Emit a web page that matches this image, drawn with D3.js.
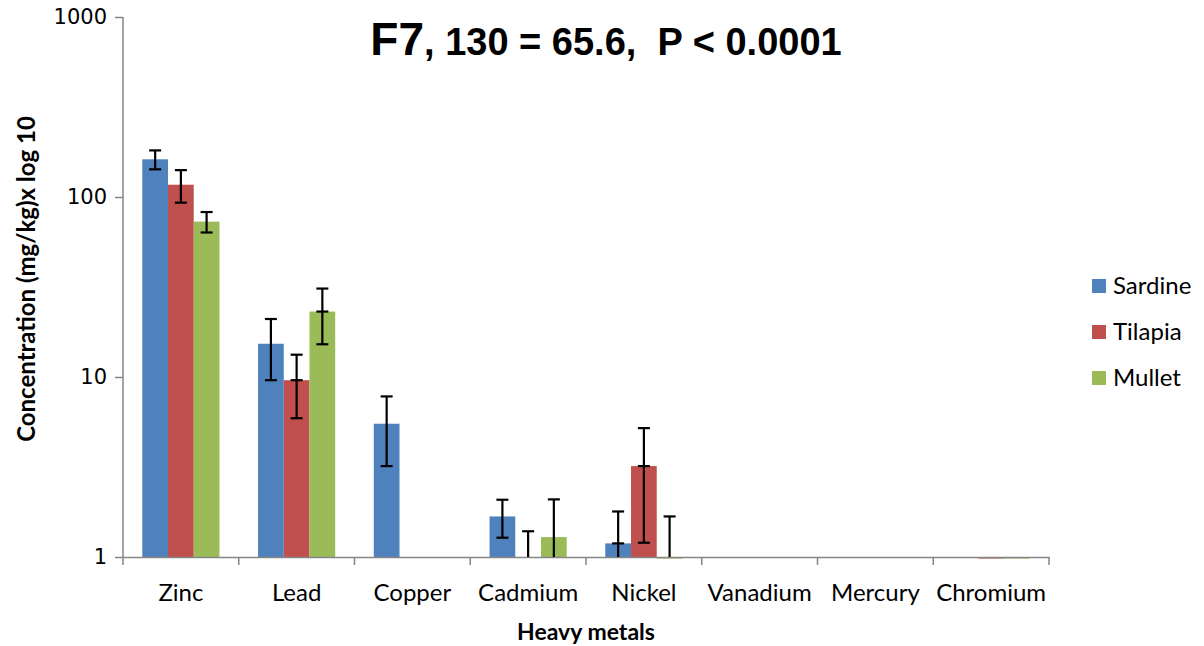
<!DOCTYPE html>
<html>
<head>
<meta charset="utf-8">
<script src="https://cdn.jsdelivr.net/npm/d3@7"></script>
<style>
  body { margin: 0; background: #fff; }
  .axis path, .axis line { stroke: #868686; }
</style>
</head>
<body>
<div id="chart"></div>
<script>
// chart values
const categories = ["Zinc", "Lead", "Copper", "Cadmium", "Nickel", "Vanadium", "Mercury", "Chromium"]
const seriesNames = ["Sardine", "Tilapia", "Mullet"]
const sardine = [162, 15.3, 5.5, 1.68, 1.19, 0, 0, 0]
const tilapia = [117, 9.6, 0, 0, 3.2, 0, 0, 0.98]
const mullet = [73, 23.1, 0, 1.29, 0.98, 0, 0, 0.98]
// +/- error (same units as the values)
const sardineErr = [19.5, 5.7, 2.3, 0.4, 0.6, 0, 0, 0]
const tilapiaErr = [24, 3.7, 0, 1.39, 2.0, 0, 0, 0]
const mulletErr = [9.5, 7.9, 0, 0.8, 0.7, 0, 0, 0]
// error bars that also show a cap at the bar top
const sardineMidCap = [false, false, false, false, true, false, false, false]
const tilapiaMidCap = [false, true, false, false, true, false, false, false]
const mulletMidCap = [false, true, false, false, false, false, false, false]
const yTicks = [1, 10, 100, 1000]
const colors = ["#4F81BD", "#C0504D", "#9BBB59"]

const values = [sardine, tilapia, mullet]
const errors = [sardineErr, tilapiaErr, mulletErr]
const midCaps = [sardineMidCap, tilapiaMidCap, mulletMidCap]

const width = 1204, height = 646
const margin = {top: 17, right: 155, bottom: 89, left: 123}
const w = width - margin.left - margin.right
const h = height - margin.top - margin.bottom
const font = "Lato, 'Open Sans', sans-serif"

const svg = d3.select("#chart")
    .append("svg")
    .attr("width", width)
    .attr("height", height)

const g = svg.append("g")
    .attr("transform", `translate(${margin.left}, ${margin.top})`)

g.append("clipPath")
    .attr("id", "clip")
    .append("rect")
    .attr("x", 0)
    .attr("y", -2)
    .attr("width", w)
    .attr("height", h + 4)

const xScale = d3.scaleBand()
    .domain(categories)
    .range([0, w])
    .padding(0)

const xInner = d3.scaleBand()
    .domain(seriesNames)
    .range([0, xScale.bandwidth()])
    .paddingInner(0)
    .paddingOuter(0.75)

const yScale = d3.scaleLog()
    .domain([1, 1000])
    .range([h, 0])

// flatten to one record per bar
const bars = []
categories.forEach((c, i) => {
    seriesNames.forEach((s, j) => {
        bars.push({cat: c, series: s, idx: j, value: values[j][i], err: errors[j][i], mid: midCaps[j][i]})
    })
})

const barG = g.append("g").attr("clip-path", "url(#clip)")

barG.selectAll(".bar")
    .data(bars.filter(d => d.value > 0))
    .enter()
    .append("rect")
    .attr("class", "bar")
    .attr("x", d => xScale(d.cat) + xInner(d.series))
    .attr("width", xInner.bandwidth())
    .attr("y", d => Math.min(yScale(d.value), yScale(1)))
    .attr("height", d => Math.max(Math.abs(yScale(1) - yScale(d.value)), 1.5))
    .attr("fill", d => colors[d.idx])

// axes
const xAxis = d3.axisBottom(xScale)
    .tickSize(0)
    .tickPadding(27)

const xAxisG = g.append("g")
    .attr("class", "axis x-axis")
    .attr("transform", `translate(0, ${h})`)
    .call(xAxis)
xAxisG.select(".domain").attr("stroke-width", 1.5)
xAxisG.selectAll("text")
    .attr("font-family", font)
    .attr("font-size", 24)
    .attr("fill", "#000")

// tick marks on the category boundaries
xAxisG.selectAll(".boundary")
    .data(d3.range(categories.length + 1))
    .enter()
    .append("line")
    .attr("class", "boundary")
    .attr("x1", d => d * xScale.step())
    .attr("x2", d => d * xScale.step())
    .attr("y1", 0)
    .attr("y2", 8)
    .attr("stroke-width", 1.5)

const yAxis = d3.axisLeft(yScale)
    .tickValues(yTicks)
    .tickFormat(d3.format("d"))
    .tickSize(8)
    .tickPadding(8)

const yAxisG = g.append("g")
    .attr("class", "axis y-axis")
    .call(yAxis)
yAxisG.select(".domain").attr("stroke-width", 1.5).attr("d", `M0,0V${h}`)
yAxisG.selectAll("line").attr("stroke-width", 1.5)
yAxisG.selectAll("text")
    .attr("font-family", "'DejaVu Sans', Verdana, sans-serif")
    .attr("font-size", 21)
    .attr("fill", "#000")

// error bars
const errG = g.append("g")
const capHalf = 6
bars.filter(d => d.err > 0).forEach(d => {
    const cx = xScale(d.cat) + xInner(d.series) + xInner.bandwidth() / 2
    const hi = d.value + d.err
    const lo = d.value - d.err
    const yHi = yScale(hi)
    const yLo = lo > 1 ? yScale(lo) : yScale(1)
    errG.append("line")
        .attr("x1", cx).attr("x2", cx)
        .attr("y1", yHi).attr("y2", yLo)
        .attr("stroke", "#000").attr("stroke-width", 2.2)
    const caps = [yHi]
    if (lo > 1) caps.push(yScale(lo))
    if (d.mid) caps.push(yScale(d.value))
    caps.forEach(cy => {
        errG.append("line")
            .attr("x1", cx - capHalf).attr("x2", cx + capHalf)
            .attr("y1", cy).attr("y2", cy)
            .attr("stroke", "#000").attr("stroke-width", 2.2)
    })
})

// axis titles
svg.append("text")
    .attr("transform", "translate(27, 279) rotate(-90)")
    .attr("text-anchor", "middle")
    .attr("dy", "0.35em")
    .attr("font-family", font)
    .attr("font-weight", "bold")
    .attr("font-size", 24)
    .text("Concentration (mg/kg)x log 10")

svg.append("text")
    .attr("x", margin.left + w / 2)
    .attr("y", 640)
    .attr("text-anchor", "middle")
    .attr("font-family", font)
    .attr("font-weight", "bold")
    .attr("font-size", 23)
    .text("Heavy metals")

// title
const title = svg.append("text")
    .attr("x", 606)
    .attr("y", 55)
    .attr("text-anchor", "middle")
    .attr("font-family", "'Liberation Sans', Arial, sans-serif")
    .attr("font-weight", "bold")
    .attr("xml:space", "preserve")
title.append("tspan").attr("font-size", 46).text("F7")
title.append("tspan").attr("font-size", 38).text(", 130 = 65.6,  P < 0.0001")

// legend
const legend = svg.append("g")
    .attr("transform", "translate(1092, 286)")
const items = legend.selectAll(".item")
    .data(seriesNames)
    .enter()
    .append("g")
    .attr("class", "item")
    .attr("transform", (d, i) => `translate(0, ${i * 46})`)
items.append("rect")
    .attr("x", 0)
    .attr("y", -7)
    .attr("width", 14)
    .attr("height", 14)
    .attr("fill", (d, i) => colors[i])
items.append("text")
    .attr("x", 21)
    .attr("dy", "0.35em")
    .attr("font-family", font)
    .attr("font-size", 24)
    .text(d => d)
</script>
</body>
</html>
